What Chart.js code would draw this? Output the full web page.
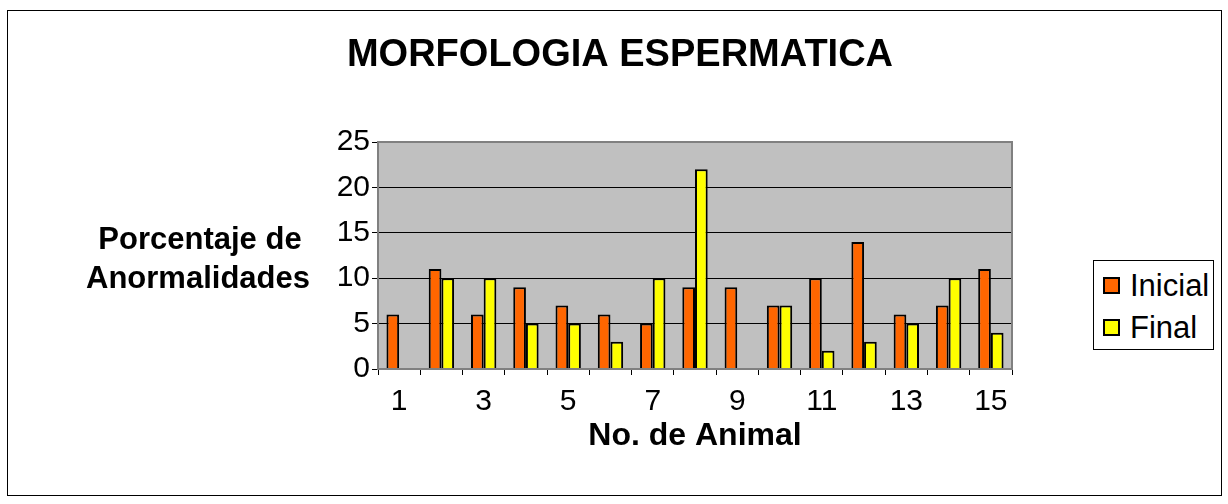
<!DOCTYPE html>
<html>
<head>
<meta charset="utf-8">
<script src="https://cdn.jsdelivr.net/npm/chart.js@4/dist/chart.umd.min.js"></script>
<style>
  body { margin: 0; background: #fff; }
  #wrap { position: relative; width: 1228px; height: 504px; }
  #frame { position: absolute; left: 7px; top: 10px; width: 1213px; height: 484px; border: 1px solid #000; pointer-events: none; }
  #legend { position: absolute; left: 1093px; top: 260px; width: 119px; height: 88px; border: 1px solid #000; background: #fff;
            font-family: "Liberation Sans", Arial, sans-serif; font-size: 31px; }
  .item { position: absolute; left: 9px; height: 34px; line-height: 34px; white-space: nowrap; }
  .item span.box { display: inline-block; width: 13px; height: 13px; border: 2px solid #000; vertical-align: middle; margin-right: 10px; position: relative; top: -2px; }
</style>
</head>
<body>
<div id="wrap">
  <canvas id="myChart" width="1228" height="504"></canvas>
  <div id="frame"></div>
  <div id="legend"></div>
</div>
<script>
let animales = ['1', '2', '3', '4', '5', '6', '7', '8', '9', '10', '11', '12', '13', '14', '15'];
let inicial = [6, 11, 6, 9, 7, 6, 5, 9, 9, 7, 10, 14, 6, 7, 11];
let final = [0, 10, 10, 5, 5, 3, 10, 22, 0, 7, 2, 3, 5, 10, 4];
let serieLabels = ['Inicial', 'Final'];
let serieColors = ['#ff6600', '#ffff00'];

let fontName = '"Liberation Sans", Arial, sans-serif';

// fondo gris, marco del area y textos que Chart.js no pone donde queremos
let extras = {
    id: 'extras',
    beforeDraw: (chart) => {
        let c = chart.ctx;
        let a = chart.chartArea;
        c.save();
        c.fillStyle = '#c0c0c0';
        c.fillRect(a.left, a.top, a.right - a.left, a.bottom - a.top);
        c.restore();
    },
    afterDraw: (chart) => {
        let c = chart.ctx;
        let a = chart.chartArea;
        c.save();
        c.strokeStyle = '#808080';
        c.lineWidth = 2;
        c.strokeRect(a.left, a.top, a.right - a.left, a.bottom - a.top);

        c.fillStyle = '#000';
        c.textAlign = 'center';
        c.textBaseline = 'middle';
        c.font = 'bold 38px ' + fontName;
        c.fillText('MORFOLOGIA ESPERMATICA', 620, 56);
        c.font = 'bold 31px ' + fontName;
        c.fillText('Porcentaje de', 200, 240);
        c.fillText('Anormalidades', 198, 279);
        c.restore();
    }
};

let ctx = document.getElementById('myChart').getContext('2d');
let myChart = new Chart(ctx, {
    type: 'bar',
    data: {
        labels: animales,
        datasets: [{
            label: serieLabels[0],
            data: inicial,
            backgroundColor: serieColors[0],
            borderColor: '#000',
            borderWidth: 2
        }, {
            label: serieLabels[1],
            data: final,
            backgroundColor: serieColors[1],
            borderColor: '#000',
            borderWidth: 2
        }]
    },
    options: {
        responsive: false,
        animation: false,
        events: [],
        layout: {
            padding: { left: 10, top: 142, right: 216, bottom: 42 }
        },
        datasets: {
            bar: { categoryPercentage: 0.6, barPercentage: 1.0 }
        },
        scales: {
            x: {
                afterFit: (scale) => { scale.height = 93; },
                grid: { drawOnChartArea: false, drawTicks: true, tickLength: 6, color: '#000' },
                border: { color: '#000' },
                ticks: {
                    color: '#000',
                    padding: 12,
                    maxRotation: 0,
                    autoSkip: false,
                    font: { family: fontName, size: 30, lineHeight: 1 },
                    callback: function (value, index) {
                        return index % 2 === 0 ? this.getLabelForValue(value) : '';
                    }
                },
                title: {
                    display: true,
                    text: 'No. de Animal',
                    color: '#000',
                    padding: { top: 3, bottom: 10 },
                    font: { family: fontName, size: 32, weight: 'bold', lineHeight: 1 }
                }
            },
            y: {
                min: 0,
                max: 25,
                afterFit: (scale) => { scale.width = 368; },
                grid: { color: '#000', tickLength: 6 },
                border: { color: '#000' },
                ticks: {
                    stepSize: 5,
                    color: '#000',
                    padding: 2,
                    font: { family: fontName, size: 30 }
                }
            }
        },
        plugins: {
            legend: { display: false },
            title: { display: false },
            tooltip: { enabled: false }
        }
    },
    plugins: [extras]
});

createLegend = () => {
    let legendDiv = document.getElementById('legend');
    let tops = [8, 50];
    for (let i = 0; i < serieLabels.length; i++) {
        let item = document.createElement('div');
        item.className = 'item';
        item.style.top = tops[i] + 'px';
        let box = document.createElement('span');
        box.className = 'box';
        box.style.background = serieColors[i];
        item.appendChild(box);
        item.appendChild(document.createTextNode(serieLabels[i]));
        legendDiv.appendChild(item);
    }
}

createLegend();
</script>
</body>
</html>
